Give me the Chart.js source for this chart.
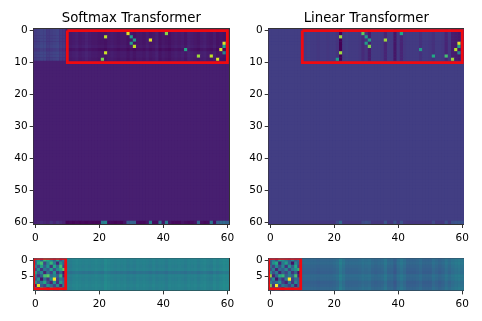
<!DOCTYPE html>
<html>
<head>
<meta charset="utf-8">
<script src="https://cdn.jsdelivr.net/npm/chart.js@4"></script>
<style>
  html, body { margin: 0; padding: 0; background: #fff; }
  #wrap { position: relative; width: 482px; height: 321px; overflow: hidden; }
  canvas { position: absolute; }
</style>
</head>
<body>
<div id="wrap">
  <canvas id="softmaxTop" width="241" height="245" style="left:0;top:0"></canvas>
  <canvas id="linearTop" width="241" height="245" style="left:241px;top:0"></canvas>
  <canvas id="softmaxBottom" width="241" height="76" style="left:0;top:245px"></canvas>
  <canvas id="linearBottom" width="241" height="76" style="left:241px;top:245px"></canvas>
</div>
<script>
// tick labels
const xTickValues = [0, 20, 40, 60];
const yTickValuesTop = [0, 10, 20, 30, 40, 50, 60];
const yTickValuesBottom = [0, 5];

// viridis, position in 0..1 is the cell value
const viridisStops = ["#440154", "#482475", "#414487", "#355f8d", "#2a788e", "#21918c", "#22a884", "#44bf70", "#7ad151", "#bddf26", "#fde725"];

// ---- top panels, 61 x 61 ----
// rows 0-9, one value per column
const softmaxTopColumns = [
  .17, .18, .2, .2, .17, .18, .19, .2, .17, .16,
  .075, .065, .075, .085, .065, .075, .09, .075, .065, .065,
  .055, .055, .045, .065, .075, .065, .055, .065, .065, .045,
  .065, .045, .065, .065, .055, .075, .055, .065, .085, .045,
  .065, .055, .045, .065, .075, .065, .075, .055, .085, .075,
  .065, .055, .075, .085, .065, .055, .075, .045, .055, .045, .065
];
const softmaxTopRowShift = [0, 0, 0, 0, 0, .01, -.02, .01, .01, 0];
const softmaxMiddle = .085;
const softmaxLastRow = [
  .09, .1, .12, .1, .09, .14, .1, .14, .12, .09,
  .01, .02, .01, .02, .01, .02, .01, .02, .01, .01,
  .01, .4, .45, .02, .02, .01, .02, .01, .05, .28,
  .32, .3, .03, .02, .02, .05, .42, .03, .03, .38,
  .05, .4, .05, .02, .02, .02, .05, .03, .02, .03,
  .05, .32, .04, .02, .03, .38, .04, .3, .34, .35, .3
];
const softmaxHot = [
  [2, 22, .9], [7, 22, .92], [9, 21, .8], [1, 29, .95], [2, 30, .55], [3, 31, .55],
  [4, 30, .55], [5, 31, .9], [3, 36, .95], [1, 41, .82], [6, 47, .6], [8, 51, .85],
  [8, 55, .9], [9, 57, .95], [6, 58, .95], [4, 59, .95], [5, 59, .6], [7, 59, .45]
];

const linearTopColumns = [
  .18, .18, .18, .18, .18, .18, .18, .18, .18, .18,
  .17, .17, .18, .17, .17, .16, .17, .17, .16, .17,
  .17, .15, .0, .17, .18, .17, .17, .17, .16, .12,
  .15, .08, .17, .17, .17, .16, .1, .17, .17, .06,
  .16, .1, .16, .17, .17, .17, .17, .14, .17, .17,
  .16, .14, .17, .17, .16, .1, .16, .08, .07, .06, .1
];
const linearTopRowShift = [0, 0, 0, 0, 0, 0, 0, 0, 0, 0];
const linearMiddle = .18;
const linearLastRow = [
  .17, .17, .17, .17, .17, .17, .17, .17, .17, .17,
  .16, .16, .16, .16, .16, .16, .16, .16, .16, .16,
  .16, .22, .33, .16, .16, .16, .16, .16, .16, .22,
  .24, .22, .16, .16, .16, .16, .26, .16, .16, .25,
  .16, .25, .17, .16, .16, .16, .16, .16, .16, .16,
  .16, .22, .16, .16, .16, .24, .16, .24, .26, .26, .24
];
const linearHot = [
  [2, 22, .85], [7, 22, .85], [9, 21, .55], [1, 29, .75], [2, 30, .55], [3, 31, .55],
  [4, 30, .55], [5, 31, .8], [3, 36, .85], [1, 41, .6], [6, 47, .55], [8, 51, .6],
  [8, 55, .7], [9, 57, .85], [6, 58, .9], [4, 59, .95], [5, 59, .6], [7, 59, .45]
];

// ---- bottom panels, 10 rows x 61 columns ----
const softmaxBlock = [
  [.35, .5, .3, .65, .6, .45, .3, .55, .25, .4],
  [.3, .6, .7, .2, .45, .65, .4, .1, .5, .3],
  [.45, .25, .55, .3, .5, .15, .6, .35, .7, .2],
  [.2, .5, .15, .4, .3, .55, .25, .45, .6, .75],
  [.6, .3, .45, .1, .35, .2, .5, .15, .3, .05],
  [.4, .15, .3, .7, .75, .35, .45, .3, .65, .1],
  [.25, .5, .05, .35, .15, .45, 1, .2, .4, .3],
  [.55, .3, .4, .6, .25, .1, .5, .15, .55, .35],
  [.05, .95, .3, .2, .5, .35, .2, .45, .1, .4],
  [.5, .2, .6, .35, .15, .55, .3, .2, .5, .25]
];
const softmaxBottomColumns = [
  .42, .42, .42, .43, .44, .43, .42, .42, .43, .42, .42, .41,
  .43, .44, .43, .42, .43, .42, .43, .44, .43, .42, .46, .44,
  .43, .42, .43, .42, .43, .41, .42, .41, .43, .42, .43, .42, .41,
  .43, .41, .42, .42, .4, .43, .42, .42, .43, .42, .41, .43, .42,
  .43, .41, .43, .44, .42, .41, .44, .42, .44, .46, .45
];
const softmaxBottomRowShift = [.01, .01, 0, .01, -.05, .01, 0, .01, .02, .01];

const linearBlock = [
  [.3, .4, .25, .55, .5, .4, .3, .45, .3, .35],
  [.25, .5, .6, .1, .4, .55, .3, .05, .45, .3],
  [.4, .2, .45, .25, .45, .15, .5, .3, .6, .2],
  [.25, .4, .1, .35, .3, .45, .2, .4, .5, .65],
  [.5, .25, .4, .1, .3, .2, .4, .15, .3, .05],
  [.85, .1, .3, .6, .65, .3, .4, .3, .7, .1],
  [.25, .45, .05, .3, .15, .4, 1, .2, .35, .3],
  [.45, .3, .35, .5, .2, .1, .4, .15, .45, .3],
  [.8, .15, 1, .2, .4, .3, .2, .4, .1, .35],
  [.45, .2, .5, .3, .15, .45, .3, .2, .45, .25]
];
const linearBottomColumns = [
  .33, .33, .33, .33, .33, .33, .33, .33, .33, .33, .32, .32,
  .32, .32, .32, .31, .32, .32, .32, .32, .33, .35, .41, .37,
  .33, .33, .33, .33, .34, .36, .35, .36, .33, .32, .33, .34, .38,
  .33, .33, .29, .35, .38, .35, .31, .31, .31, .32, .34, .31, .31,
  .31, .35, .33, .31, .33, .37, .34, .37, .39, .4, .38
];
const linearBottomRowShift = [.01, .02, 0, -.01, -.02, .02, .01, -.02, -.01, .01];

// red boxes, corners in data units
const topBoxX = [10, 60, 60, 10, 10];
const topBoxY = [0, 0, 10, 10, 0];
const bottomBoxX = [-.5, 9.5, 9.5, -.5, -.5];
const bottomBoxY = [-.5, -.5, 9, 9, -.5];

function viridis(v) {
  const t = Math.min(Math.max(v, 0), 1) * (viridisStops.length - 1);
  const i = Math.min(Math.floor(t), viridisStops.length - 2);
  const a = viridisStops[i], b = viridisStops[i + 1], f = t - i;
  const ch = (s, p) => parseInt(s.substr(p, 2), 16);
  const mix = (p) => Math.round(ch(a, p) + (ch(b, p) - ch(a, p)) * f);
  return `rgb(${mix(1)},${mix(3)},${mix(5)})`;
}

function topCells(columns, rowShift, middle, lastRow, hot) {
  const cells = [];
  for (let r = 0; r <= 60; r++) {
    for (let c = 0; c <= 60; c++) {
      let v = middle;
      if (r < 10) v = columns[c] + rowShift[r];
      if (r === 60) v = lastRow[c];
      cells.push({ x: c, y: r, v: v });
    }
  }
  hot.forEach((h) => { cells[h[0] * 61 + h[1]].v = h[2]; });
  return cells;
}

function bottomCells(block, columns, rowShift) {
  const cells = [];
  for (let r = 0; r < 10; r++) {
    for (let c = 0; c <= 60; c++) {
      const v = c < 10 ? block[r][c] : columns[c] + rowShift[r];
      cells.push({ x: c, y: r, v: v });
    }
  }
  return cells;
}

function boxPoints(xs, ys) {
  return xs.map((x, i) => ({ x: x, y: ys[i] }));
}

// fill behind the cells so the antialiased cell edges do not show white
const cellBackdrop = {
  id: "cellBackdrop",
  beforeDatasetsDraw(chart, args, opts) {
    const a = chart.chartArea;
    chart.ctx.save();
    chart.ctx.fillStyle = viridis(opts.value);
    chart.ctx.fillRect(a.left, a.top, a.right - a.left, a.bottom - a.top);
    chart.ctx.restore();
  },
};

function createPanel(id, o) {
  const ctx = document.getElementById(id).getContext("2d");
  const tickFont = { family: "DejaVu Sans", size: 10.5 };
  new Chart(ctx, {
    type: "scatter",
    plugins: [cellBackdrop],
    data: {
      datasets: [
        {
          // first dataset is painted last, so the box sits over the cells
          data: o.box,
          showLine: true,
          borderColor: "#f00a10",
          borderWidth: 2.8,
          pointRadius: 0,
          fill: false,
        },
        {
          data: o.cells,
          pointStyle: "rect",
          borderWidth: 0,
          backgroundColor: (c) => viridis(c.raw ? c.raw.v : 0),
          pointRadius: (c) => {
            const x = c.chart.scales.x;
            const cell = Math.abs(x.getPixelForValue(1) - x.getPixelForValue(0));
            return (cell / 2 + 0.1) * Math.SQRT2;
          },
        },
      ],
    },
    options: {
      responsive: false,
      animation: false,
      events: [],
      layout: { padding: o.padding },
      plugins: {
        cellBackdrop: { value: o.backdrop },
        legend: { display: false },
        tooltip: { enabled: false },
        title: {
          display: !!o.title,
          text: o.title,
          fullSize: false,
          color: "#000",
          font: { family: "DejaVu Sans", size: 13.3, weight: "normal", lineHeight: 1.2 },
          padding: { top: 10.5, bottom: 2.5 },
        },
      },
      scales: {
        x: {
          type: "linear",
          position: "bottom",
          min: -0.5,
          max: 60.5,
          afterBuildTicks: (s) => { s.ticks = xTickValues.map((v) => ({ value: v })); },
          afterFit: (s) => { s.height = o.xHeight; },
          grid: { drawOnChartArea: false, tickLength: 4, tickColor: "#000", tickWidth: 0.8 },
          border: { color: "#333", width: 1 },
          ticks: { color: "#000", font: tickFont, padding: 3.5, maxRotation: 0, autoSkip: false },
        },
        y: {
          type: "linear",
          position: "left",
          reverse: true,
          min: -0.5,
          max: o.yMax,
          afterBuildTicks: (s) => { s.ticks = o.yTicks.map((v) => ({ value: v })); },
          afterFit: (s) => { s.width = o.yWidth; },
          grid: { drawOnChartArea: false, tickLength: 4, tickColor: "#000", tickWidth: 0.8 },
          border: { color: "#333", width: 1 },
          ticks: { color: "#000", font: tickFont, padding: 2, autoSkip: false },
        },
        // top and right spines
        xTop: {
          type: "linear",
          position: "top",
          afterFit: (s) => { s.height = 0; },
          grid: { drawOnChartArea: false, drawTicks: false },
          border: { color: "#333", width: 1 },
          ticks: { display: false },
        },
        yRight: {
          type: "linear",
          position: "right",
          afterFit: (s) => { s.width = 0; },
          grid: { drawOnChartArea: false, drawTicks: false },
          border: { color: "#333", width: 1 },
          ticks: { display: false },
        },
      },
    },
  });
}

createPanel("softmaxTop", {
  title: "Softmax Transformer",
  cells: topCells(softmaxTopColumns, softmaxTopRowShift, softmaxMiddle, softmaxLastRow, softmaxHot),
  box: boxPoints(topBoxX, topBoxY),
  backdrop: softmaxMiddle,
  yMax: 60.5, yTicks: yTickValuesTop, yWidth: 33.7, xHeight: 21,
  padding: { left: 0, right: 12, top: 0, bottom: 0 },
});
createPanel("linearTop", {
  title: "Linear Transformer",
  cells: topCells(linearTopColumns, linearTopRowShift, linearMiddle, linearLastRow, linearHot),
  box: boxPoints(topBoxX, topBoxY),
  backdrop: linearMiddle,
  yMax: 60.5, yTicks: yTickValuesTop, yWidth: 27.7, xHeight: 21,
  padding: { left: 0, right: 18.1, top: 0, bottom: 0 },
});
createPanel("softmaxBottom", {
  title: "",
  cells: bottomCells(softmaxBlock, softmaxBottomColumns, softmaxBottomRowShift),
  box: boxPoints(bottomBoxX, bottomBoxY),
  backdrop: .43,
  yMax: 9.5, yTicks: yTickValuesBottom, yWidth: 33.7, xHeight: 30.6,
  padding: { left: 0, right: 12, top: 13.4, bottom: 0 },
});
createPanel("linearBottom", {
  title: "",
  cells: bottomCells(linearBlock, linearBottomColumns, linearBottomRowShift),
  box: boxPoints(bottomBoxX, bottomBoxY),
  backdrop: .33,
  yMax: 9.5, yTicks: yTickValuesBottom, yWidth: 27.7, xHeight: 30.6,
  padding: { left: 0, right: 18.1, top: 13.4, bottom: 0 },
});
</script>
</body>
</html>
